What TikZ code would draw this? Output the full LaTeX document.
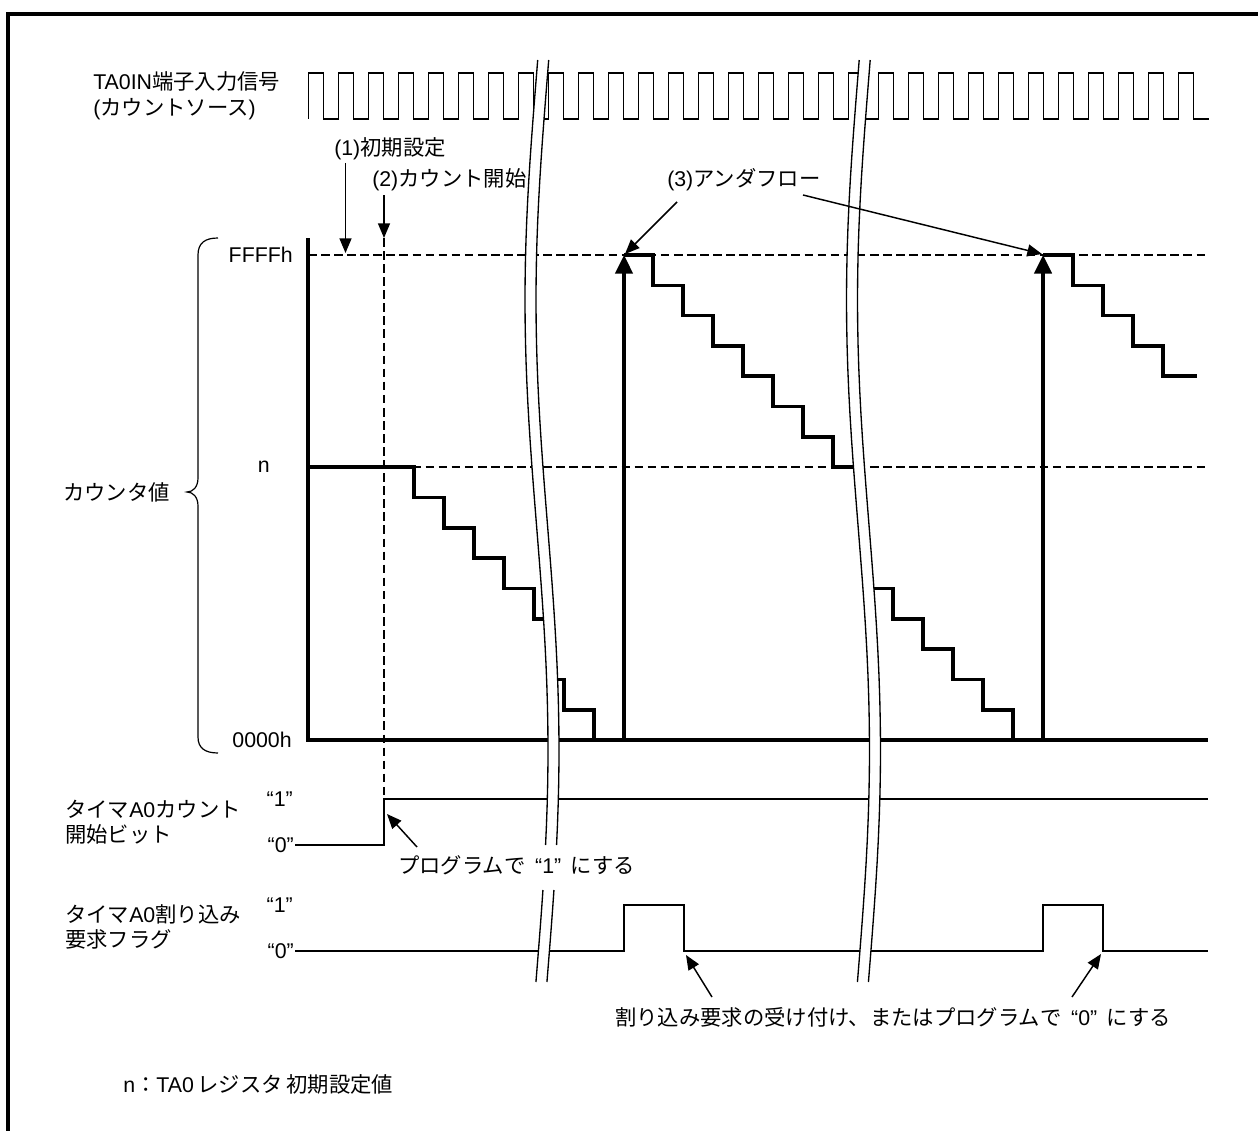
\documentclass[tikz,border=0pt]{standalone}
\usepackage{fontspec}
\setmainfont{Liberation Sans}
\newfontfamily\jp{Noto Sans CJK JP}
\usetikzlibrary{arrows.meta}
\newcommand{\brkpair}[3]{%
  \fill[white] plot[domain=#2:#3,samples=40,variable=\t] ({#1+536.5-11.5*cos(0.4*(\t-300))},\t)
     -- plot[domain=#3:#2,samples=40,variable=\t] ({#1+547.5-11.5*cos(0.4*(\t-300))},\t) -- cycle;
  \draw[brk] plot[domain=#2:#3,samples=40,variable=\t] ({#1+536.5-11.5*cos(0.4*(\t-300))},\t);
  \draw[brk] plot[domain=#2:#3,samples=40,variable=\t] ({#1+547.5-11.5*cos(0.4*(\t-300))},\t);}
\newcommand{\qsp}{\hspace{0.45em}}
\begin{document}
\begin{tikzpicture}[x=0.75pt,y=-0.75pt,
  sigline/.style={line width=1.1pt},
  thickline/.style={line width=2.7pt},
  dline/.style={line width=2.2pt,dash pattern=on 6.5pt off 3.3pt},
  annarrow/.style={line width=1.1pt,-{Triangle[length=11pt,width=9pt]}},
  bigarrow/.style={line width=2.7pt,-{Triangle[length=14pt,width=13pt]}},
  brk/.style={line width=1pt},
  lbl/.style={font=\fontsize{16pt}{19pt}\selectfont,inner sep=0pt,anchor=base west},
  lble/.style={lbl,anchor=base east}]
\useasboundingbox (0,0) rectangle (1258,1131);
% frame
\draw[line width=3pt] (7.5,1131) -- (7.5,14) -- (1258,14);
% clock
\draw[sigline] (308.5,119) \foreach \k in {0,...,29}{ -- ++(0,-46) -- ++(15,0) -- ++(0,46) -- ++(15,0)};
% dashed levels
\draw[dline] (308,255) -- (1208,255);
\draw[dline] (308,467) -- (1208,467);
\draw[dline] (384,238) -- (384,799);
% axes
\draw[thickline] (308,238) -- (308,740) -- (1208,740);
% staircase 1
\draw[thickline] (308,467) -- (414,467) -- (414,497.3) -- (444,497.3) -- (444,527.7) -- (474,527.7) -- (474,558) -- (504,558) -- (504,588.3) -- (534,588.3) -- (534,618.7) -- (548,618.7);
\draw[thickline] (552,679.3) -- (564,679.3) -- (564,709.7) -- (594,709.7) -- (594,740);
% staircase 2
\draw[thickline] (624,255) -- (653,255) -- (653,285.3) -- (683,285.3) -- (683,315.6) -- (713,315.6) -- (713,345.9) -- (743,345.9) -- (743,376.1) -- (773,376.1) -- (773,406.4) -- (803,406.4) -- (803,436.7) -- (833,436.7) -- (833,467) -- (858,467);
\draw[thickline] (868,588.3) -- (893,588.3) -- (893,618.7) -- (923,618.7) -- (923,649) -- (953,649) -- (953,679.3) -- (983,679.3) -- (983,709.7) -- (1013,709.7) -- (1013,740);
% staircase 3
\draw[thickline] (1043,255) -- (1073,255) -- (1073,285.3) -- (1103,285.3) -- (1103,315.6) -- (1133,315.6) -- (1133,345.9) -- (1163,345.9) -- (1163,376.1) -- (1197,376.1);
% underflow arrows
\coordinate (u1b) at (624,740); \coordinate (u1t) at (624,255);
\coordinate (u2b) at (1043,740); \coordinate (u2t) at (1043,255);
\draw[bigarrow] (u1b) -- (u1t);
\draw[bigarrow] (u2b) -- (u2t);
% start bit
\draw[sigline] (295,845) -- (384,845) -- (384,799) -- (1208,799);
% interrupt flag
\draw[sigline] (295,951) -- (624,951) -- (624,905) -- (684,905) -- (684,951) -- (1043,951) -- (1043,905) -- (1103,905) -- (1103,951) -- (1208,951);
% brace
\draw[line width=0.9pt] (218,238) .. controls (205,238) and (198,243) .. (198,255) -- (198,478)
   .. controls (198,487) and (193,492) .. (187,492) .. controls (193,492) and (198,497) .. (198,506)
   -- (198,737) .. controls (198,748) and (205,753) .. (218,753);
% breaks
\brkpair{0}{60}{845}
\brkpair{0}{890}{982}
\brkpair{321.5}{60}{982}
% annotation arrows
\coordinate (a1s) at (345.5,163); \coordinate (a1e) at (345.5,253);
\coordinate (a2s) at (384,195); \coordinate (a2e) at (384,238);
\coordinate (a3s) at (677,202); \coordinate (a3e) at (625,254);
\coordinate (a4s) at (803,195); \coordinate (a4e) at (1042,254);
\coordinate (a5s) at (417,847); \coordinate (a5e) at (387,814);
\coordinate (a6s) at (712,997); \coordinate (a6e) at (686,955);
\coordinate (a7s) at (1072,997); \coordinate (a7e) at (1101,954);
\foreach \s/\e in {a1s/a1e,a2s/a2e,a3s/a3e,a4s/a4e,a5s/a5e,a6s/a6e,a7s/a7e}
  \draw[annarrow] (\s) -- (\e);
% texts
\node[lbl] (tin1) at (93,90) {TA0IN{\jp 端子入力信号}};
\node[lbl] (tin2) at (93,116) {({\jp カウントソース})};
\node[lbl] (t1) at (334,156) {(1){\jp 初期設定}};
\node[lbl] (t2) at (372,186) {(2){\jp カウント開始}};
\node[lbl] (t3) at (667,186) {(3){\jp アンダフロー}};
\node[lble] (tff) at (293,262) {FFFFh};
\node[lble] (tn) at (270,472) {n};
\node[lble] (t00) at (292,747) {0000h};
\node[lbl] (tcnt) at (63,500) {\jp カウンタ値};
\node[lble] (s1) at (293,806) {“1”};
\node[lble] (s0) at (294,852) {“0”};
\node[lbl] (sl1) at (65,817) {{\jp タイマ}A0{\jp カウント}};
\node[lbl] (sl2) at (65,842) {\jp 開始ビット};
\node[lble] (f1) at (293,912) {“1”};
\node[lble] (f0) at (294,958) {“0”};
\node[lbl] (fl1) at (65,922) {{\jp タイマ}A0{\jp 割り込み}};
\node[lbl] (fl2) at (65,947) {\jp 要求フラグ};
\node[lbl] (p1) at (398,873) {{\jp プログラムで}\qsp“1”\qsp{\jp にする}};
\node[lbl] (p2) at (615,1025) {{\jp 割り込み要求の受け付け、またはプログラムで}\qsp“0”\qsp{\jp にする}};
\node[lbl] (note) at (123,1092) {n{\jp ：}TA0\,{\jp レジスタ\,初期設定値}};
\end{tikzpicture}
\end{document}
